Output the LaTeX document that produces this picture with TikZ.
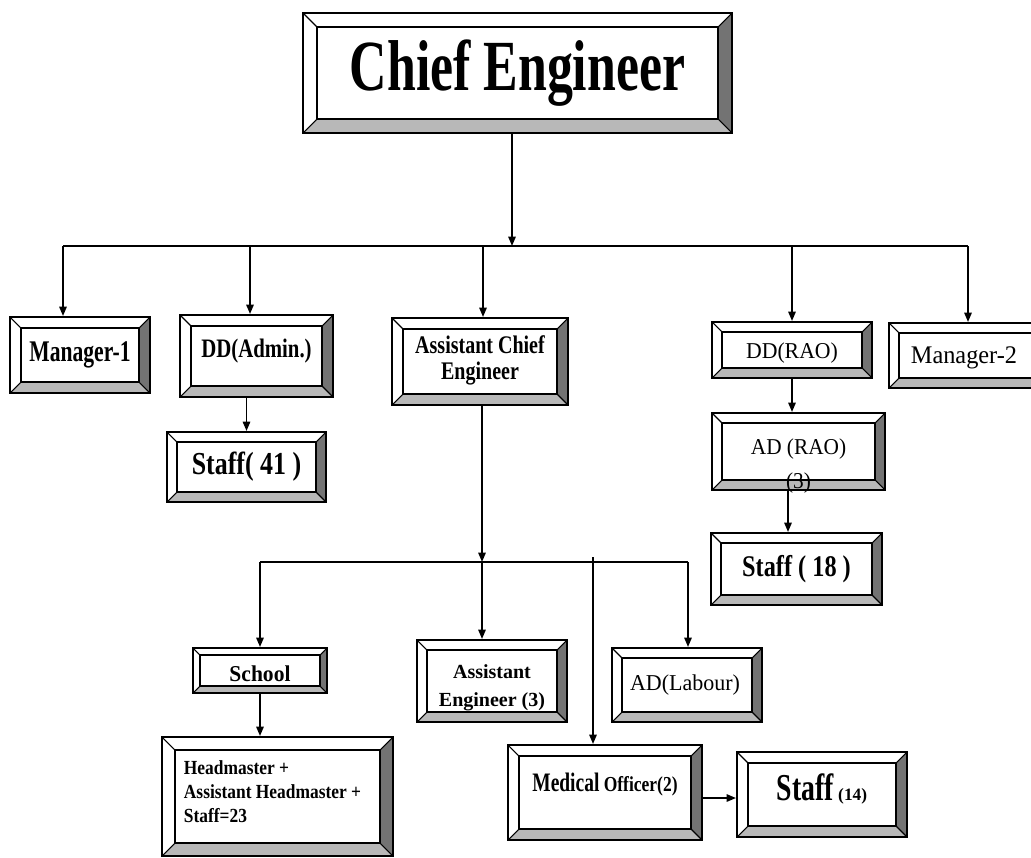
\documentclass[tikz,border=0pt]{standalone}
\usepackage{fontspec}
\setmainfont{Liberation Serif}
\usepackage{graphicx}
\usetikzlibrary{arrows.meta}

\tikzset{
  frame/.style={draw=black, line width=1.5pt, inner sep=0pt},
  innerline/.style={draw=black, line width=1.1pt},
  bevelline/.style={draw=black, line width=0.8pt},
  bevelright/.style={fill=black!55},
  bevelbottom/.style={fill=black!28},
  label text/.style={inner sep=0pt, align=center},
  link/.style={draw=black, line width=1.3pt},
  arr/.style={link, -{Triangle[length=7pt,width=5.5pt]}},
}

% font size, baseline skip, horizontal squeeze, text
\newcommand\txt[4]{{\fontsize{#1}{#2}\selectfont\scalebox{#3}[1]{#4}}}

% bevelled box: name, x1, y1, x2, y2, bevel width, text offset, text
\newcommand\bbox[8]{%
  \def\bxa{#2}\def\bya{#3}\def\bxb{#4}\def\byb{#5}\def\bd{#6}%
  \fill[bevelright] (\bxb,\bya) -- (\bxb,\byb) -- (\bxb-\bd,\byb-\bd) -- (\bxb-\bd,\bya+\bd) -- cycle;
  \fill[bevelbottom] (\bxa,\byb) -- (\bxb,\byb) -- (\bxb-\bd,\byb-\bd) -- (\bxa+\bd,\byb-\bd) -- cycle;
  \node[frame, minimum width={(#4-#2)*0.75pt}, minimum height={(#5-#3)*0.75pt}]
    (#1) at ({(#2+#4)/2},{(#3+#5)/2}) {};
  \draw[innerline] (\bxa+\bd,\bya+\bd) rectangle (\bxb-\bd,\byb-\bd);
  \draw[bevelline] (\bxa,\bya) -- (\bxa+\bd,\bya+\bd)
                   (\bxb,\bya) -- (\bxb-\bd,\bya+\bd)
                   (\bxb,\byb) -- (\bxb-\bd,\byb-\bd)
                   (\bxa,\byb) -- (\bxa+\bd,\byb-\bd);
  \node[label text, shift={(#7)}] (#1-t) at (#1.center) {#8};
}

\begin{document}
\begin{tikzpicture}[x=0.75pt, y=-0.75pt]
\useasboundingbox (0,0) rectangle (1031,857);
\clip (0,0) rectangle (1031,857);
\fill[white] (0,0) rectangle (1031,857);

% ---- top level
\bbox{chief}{303}{13}{732}{133}{14}{0,0}{\txt{54}{54}{.72}{\bfseries Chief Engineer}}

% ---- second level
\bbox{m1}{10}{317}{150}{393}{11}{0,0}{\txt{22.5}{24}{.72}{\bfseries Manager-1}}
\bbox{dda}{180}{315}{333}{397}{11}{0,-5}{\txt{20}{22}{.78}{\bfseries DD(Admin.)}}
\bbox{ace}{392}{318}{568}{405}{11}{0,0}{\txt{19}{19}{.79}{\bfseries\begin{tabular}{@{}c@{}}Assistant Chief\\Engineer\end{tabular}}}
\bbox{ddrao}{712}{322}{872}{378}{10}{0,3}{\txt{17}{18}{.96}{DD(RAO)}}
\bbox{m2}{889}{323}{1045}{388}{10}{-3,2}{\txt{19}{20}{.96}{Manager-2}}

% ---- below the directors
\bbox{s41}{167}{432}{326}{502}{10}{0,0}{\txt{24}{26}{.81}{\bfseries Staff( 41 )}}
\bbox{adrao}{712}{413}{885}{490}{10}{0,13}{\txt{17}{26}{.94}{\begin{tabular}{@{}c@{}}AD (RAO)\\(3)\end{tabular}}}
\bbox{s18}{711}{533}{882}{605}{10}{0,0}{\txt{22.5}{24}{.81}{\bfseries Staff ( 18 )}}

% ---- under the Assistant Chief Engineer
\bbox{school}{193}{648}{327}{693}{7}{0,3}{\txt{17}{18}{.95}{\bfseries School}}
\bbox{ae}{417}{640}{567}{722}{10}{0,6}{\txt{15}{21}{1}{\bfseries\begin{tabular}{@{}c@{}}Assistant\\Engineer (3)\end{tabular}}}
\bbox{adl}{612}{648}{762}{722}{10}{-2,0}{\txt{17}{18}{.97}{AD(Labour)}}
\bbox{hm}{162}{737}{393}{856}{13}{-5,-3}{\txt{15}{18}{.87}{\bfseries\begin{tabular}{@{}l@{}}Headmaster +\\Assistant Headmaster +\\Staff=23\end{tabular}}}
\bbox{med}{508}{745}{702}{840}{11}{0,-8}{\bfseries\txt{20}{22}{.73}{Medical}\txt{16}{18}{.82}{ Officer(2)}}
\bbox{s14}{737}{752}{907}{837}{11}{0,-6}{\bfseries\txt{28.5}{30}{.73}{Staff}\txt{13}{14}{1}{ (14)}}

% ---- connectors from the Chief Engineer
\coordinate (j1) at (512,246);
\coordinate (t1) at (63,246);
\coordinate (t2) at (250,246);
\coordinate (t3) at (483,246);
\coordinate (t4) at (792,246);
\coordinate (t5) at (968,246);
\draw[arr] (chief.south -| j1) -- (j1);
\draw[link] (t1) -- (t5);
\draw[arr] (t1) -- (t1 |- m1.north);
\draw[arr] (t2) -- (t2 |- dda.north);
\draw[arr] (t3) -- (t3 |- ace.north);
\draw[arr] (t4) -- (t4 |- ddrao.north);
\draw[arr] (t5) -- (t5 |- m2.north);

% ---- directors to their staff
\draw[arr] (s41.north |- dda.south) -- (s41.north);
\draw[arr] (ddrao.south) -- (ddrao.south |- adrao.north);
\coordinate (c18) at (788,0);
\draw[arr] (adrao.south -| c18) -- (s18.north -| c18);

% ---- Assistant Chief Engineer branches
\coordinate (j2) at (482,562);
\coordinate (u1) at (260,562);
\coordinate (u3) at (688,562);
\coordinate (u4) at (593,557);
\draw[arr] (ace.south -| j2) -- (j2);
\draw[link] (u1) -- (u3);
\draw[arr] (u1) -- (u1 |- school.north);
\draw[arr] (j2) -- (j2 |- ae.north);
\draw[arr] (u3) -- (u3 |- adl.north);
\draw[arr] (u4) -- (u4 |- med.north);
\draw[arr] (school.south -| u1) -- (hm.north -| u1);
\draw[arr] (med.east |- 0,798) -- (s14.west |- 0,798);
\end{tikzpicture}
\end{document}
